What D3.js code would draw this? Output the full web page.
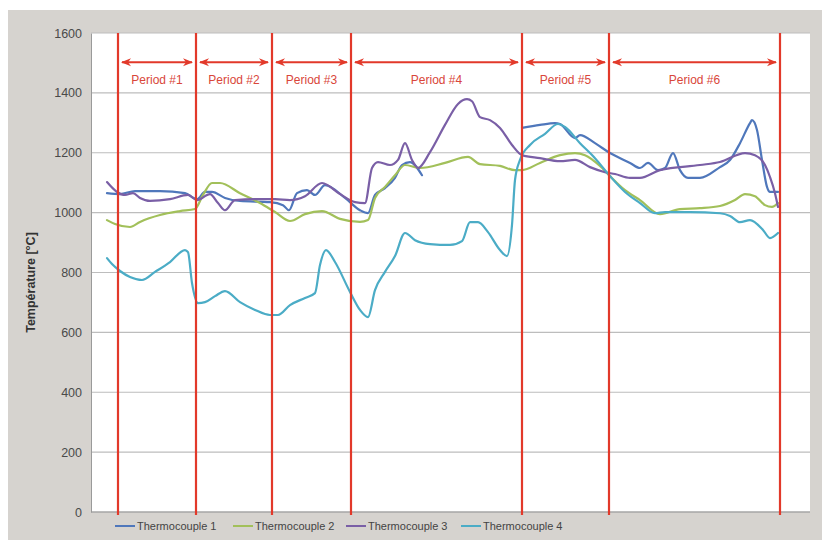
<!DOCTYPE html>
<html><head><meta charset="utf-8">
<script src="https://cdn.jsdelivr.net/npm/d3@7"></script>
<style>body{margin:0;background:#fff;}svg{display:block;}</style>
</head><body>
<script>
// ---- data (time in arbitrary minutes, temperature in °C) ----
const seriesNames = ["Thermocouple 1", "Thermocouple 2", "Thermocouple 3", "Thermocouple 4"];
const seriesColors = ["#4f77bb", "#a2c05a", "#7a5fa6", "#4bacc6"];
const yTicks = [0, 200, 400, 600, 800, 1000, 1200, 1400, 1600];
const periodBounds = [27, 105, 181, 260, 431, 518, 689];
const periodLabels = ["Period #1", "Period #2", "Period #3", "Period #4", "Period #5", "Period #6"];

const tc1 = [[16,1065],[29,1062],[44,1072],[69,1072],[94,1065],[106,1045],[114,1069],[121,1069],[134,1049],[149,1039],[179,1035],[192,1025],[198,1008],[206,1065],[216,1075],[224,1059],[234,1092],[254,1049],[269,1008],[277,998],[284,1059],[294,1082],[304,1116],[311,1159],[319,1169],[331,1125],
  [381,null],
  [431,1283],[449,1293],[464,1299],[469,1296],[484,1249],[489,1259],[504,1232],[519,1199],[539,1166],[549,1149],[557,1166],[567,1142],[574,1149],[582,1199],[589,1142],[597,1116],[609,1116],[629,1152],[639,1176],[649,1232],[659,1299],[661,1309],[666,1276],[671,1176],[676,1086],[679,1069],[687,1069]];
const tc2 = [[16,975],[24,962],[39,952],[49,969],[69,992],[89,1005],[104,1012],[112,1059],[121,1099],[129,1099],[149,1065],[169,1032],[184,1002],[199,972],[214,995],[231,1005],[249,979],[269,969],[277,975],[284,1049],[294,1086],[304,1125],[314,1159],[329,1149],[354,1166],[377,1186],[389,1162],[409,1156],[424,1142],[431,1142],[449,1166],[469,1192],[484,1199],[494,1192],[509,1156],[519,1122],[534,1075],[549,1042],[569,995],[589,1012],[609,1015],[629,1022],[644,1042],[654,1062],[664,1055],[674,1025],[681,1019],[687,1032]];
const tc3 = [[16,1102],[26,1069],[34,1059],[42,1065],[49,1049],[59,1039],[79,1045],[97,1059],[106,1042],[119,1062],[127,1032],[134,1008],[144,1042],[164,1045],[184,1045],[199,1042],[214,1055],[231,1099],[249,1062],[264,1035],[274,1032],[281,1149],[287,1169],[299,1159],[307,1176],[314,1232],[321,1176],[327,1149],[339,1202],[354,1293],[367,1363],[376,1379],[381,1372],[389,1319],[399,1309],[409,1283],[421,1226],[431,1192],[449,1182],[469,1172],[484,1176],[499,1152],[514,1135],[524,1129],[539,1116],[549,1116],[569,1142],[609,1159],[629,1169],[654,1199],[664,1192],[674,1159],[679,1119],[684,1065],[687,1019]];
const tc4 = [[16,848],[21,828],[29,805],[39,785],[51,775],[64,802],[79,835],[94,875],[97,868],[101,765],[107,698],[114,701],[124,721],[134,738],[149,701],[164,675],[179,658],[187,658],[199,691],[214,715],[224,731],[229,825],[235,875],[244,835],[259,735],[269,675],[277,651],[284,741],[294,802],[304,855],[314,932],[324,908],[339,895],[359,892],[371,905],[379,968],[387,968],[397,935],[409,875],[416,855],[421,959],[424,1109],[429,1176],[439,1226],[454,1263],[467,1296],[474,1286],[489,1232],[504,1182],[519,1122],[534,1069],[549,1032],[564,998],[574,1002],[599,1002],[629,998],[639,989],[649,968],[659,975],[672,942],[679,915],[687,932]];
const allSeries = [tc1, tc2, tc3, tc4];

// ---- layout ----
const W = 827, H = 540;
const L = 91, R = 810, T = 33, B = 512;
const svg = d3.select("body").append("svg").attr("width", W).attr("height", H);

svg.append("rect").attr("x", 8).attr("y", 10).attr("width", 814).attr("height", 530).attr("fill", "#d6d3cf");
svg.append("rect").attr("x", L).attr("y", T).attr("width", R - L).attr("height", B - T).attr("fill", "#ffffff");

const x = d3.scaleLinear().domain([0, 719]).range([L, R]);
const y = d3.scaleLinear().domain([0, 1600]).range([B, T]);

// gridlines
svg.append("g").selectAll("line").data(yTicks).join("line")
  .attr("x1", L).attr("x2", R).attr("y1", d => y(d)).attr("y2", d => y(d))
  .attr("stroke", "#bdbdbd").attr("stroke-width", 1.2);

// y axis
const yAxis = d3.axisLeft(y).tickValues(yTicks).tickFormat(d3.format("d")).tickSize(0).tickPadding(9);
const ga = svg.append("g").attr("transform", `translate(${L},0)`).call(yAxis);
ga.select(".domain").attr("stroke", "#9a9a9a");
ga.selectAll("text").attr("font-family", "Liberation Sans, Arial, sans-serif").attr("font-size", 12.5).attr("fill", "#4a4a4a");

svg.append("line").attr("x1", L).attr("x2", R).attr("y1", B).attr("y2", B).attr("stroke", "#9a9a9a");

svg.append("text").attr("transform", `translate(35,${(T + B) / 2 + 10}) rotate(-90)`)
  .attr("text-anchor", "middle").attr("font-family", "Liberation Sans, Arial, sans-serif")
  .attr("font-size", 12.5).attr("font-weight", "bold").attr("fill", "#333").text("Température [°C]");

// series
const line = d3.line().defined(d => d[1] !== null).x(d => x(d[0])).y(d => y(d[1])).curve(d3.curveMonotoneX);
svg.append("g").selectAll("path").data(allSeries).join("path")
  .attr("d", d => line(d)).attr("fill", "none")
  .attr("stroke", (d, i) => seriesColors[i]).attr("stroke-width", 2.2)
  .attr("stroke-linejoin", "round").attr("stroke-linecap", "round");

// period boundaries
const red = "#e2392a";
svg.append("g").selectAll("line").data(periodBounds).join("line")
  .attr("x1", d => x(d)).attr("x2", d => x(d)).attr("y1", T).attr("y2", B + 3)
  .attr("stroke", red).attr("stroke-width", 2.2);

// arrows
const defs = svg.append("defs");
defs.append("marker").attr("id", "ah").attr("viewBox", "0 0 10 10").attr("refX", 9).attr("refY", 5)
  .attr("markerWidth", 10).attr("markerHeight", 10).attr("markerUnits", "userSpaceOnUse").attr("orient", "auto-start-reverse")
  .append("path").attr("d", "M0,1 L10,5 L0,9 L3,5 Z").attr("fill", red);

const periods = periodLabels.map((lab, i) => ({ lab, a: periodBounds[i], b: periodBounds[i + 1] }));
const arrowY = y(1502);
svg.append("g").selectAll("line").data(periods).join("line")
  .attr("x1", d => x(d.a) + 4).attr("x2", d => x(d.b) - 4).attr("y1", arrowY).attr("y2", arrowY)
  .attr("stroke", red).attr("stroke-width", 2)
  .attr("marker-start", "url(#ah)").attr("marker-end", "url(#ah)");
svg.append("g").selectAll("text").data(periods).join("text")
  .attr("x", d => (x(d.a) + x(d.b)) / 2).attr("y", y(1430))
  .attr("text-anchor", "middle").attr("font-family", "Liberation Sans, Arial, sans-serif")
  .attr("font-size", 12).attr("fill", "#d9463a").text(d => d.lab);

// legend
const legX = [115, 233, 346, 461];
const lg = svg.append("g").selectAll("g").data(seriesNames).join("g")
  .attr("transform", (d, i) => `translate(${legX[i]},526)`);
lg.append("line").attr("x1", 0).attr("x2", 20).attr("y1", 0).attr("y2", 0)
  .attr("stroke", (d, i) => seriesColors[i]).attr("stroke-width", 2);
lg.append("text").attr("x", 22).attr("y", 4).attr("font-family", "Liberation Sans, Arial, sans-serif")
  .attr("font-size", 11).attr("fill", "#444").text(d => d);
</script>
</body></html>
